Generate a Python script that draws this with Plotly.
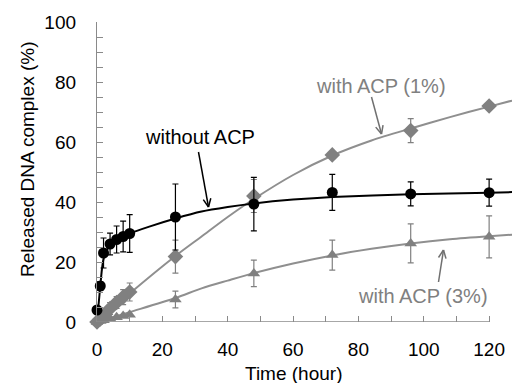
import math
import plotly.graph_objects as go

# ---- data ----
time_pts = [0, 1, 2, 4, 6, 8, 10, 24, 48, 72, 96, 120]
without_acp = [4, 12, 23, 26, 27.5, 28.5, 29.5, 35, 39.3, 43.2, 42.7, 43.1]
without_acp_err = [1, 1.5, 5, 3.6, 4.5, 5.1, 6.3, 11, 8.9, 6, 4, 4.5]
acp1 = [0, 1, 2, 4.5, 6.5, 8.3, 10, 21.8, 42, 55.7, 63.8, 72]
acp1_err = [0.5, 1, 1.5, 2, 2, 2.5, 3, 5.5, 5.5, 0, 4, 0]
acp3 = [0, 0.3, 0.6, 1.2, 1.6, 2.0, 2.4, 7.5, 16.2, 22.3, 26.2, 28.4]
acp3_err = [0, 0, 0, 0, 0, 0, 0, 2.8, 4.4, 5, 6.5, 7]

# fitted curves
fit_t_black = [0, 0.5, 1, 1.5, 2, 3, 4, 6, 8, 10, 16, 24, 32, 40, 48, 60, 72, 96, 120, 127]
fit_black = [0.5, 6, 12, 17.5, 21, 24, 25.5, 27.3, 28.5, 29.5, 31.8, 34.5, 36.8, 38.3, 39.5, 40.8, 41.7, 42.6, 43.1, 43.3]
fit_t = [0, 10, 24, 32, 40, 48, 60, 72, 84, 96, 108, 120, 127]
fit_acp1 = [0, 9.5, 22, 28.5, 35, 41, 49, 55.5, 60.5, 64.5, 68.3, 71.8, 73.8]
fit_acp3 = [0, 3.3, 8, 11.2, 13.8, 16.3, 19.5, 22.2, 24.4, 26.2, 27.6, 28.6, 29.1]

x_ticks = [0, 20, 40, 60, 80, 100, 120]
y_ticks = [0, 20, 40, 60, 80, 100]

GRAY = "#808080"
LGRAY = "#8f8f8f"
AXC = "#8a8a8a"
FONT = "Liberation Sans, Arial, sans-serif"

# layout geometry
W, H = 512, 383
ML, MR, MT, MB = 97, 0, 22, 61
XR = [0, 127]
YR = [0, 100]
PW = W - ML - MR
PH = H - MT - MB

def px2paper(px, py):
    return (px - ML) / PW, (H - MB - py) / PH

fig = go.Figure()

fig.add_trace(go.Scatter(x=fit_t, y=fit_acp3, mode="lines", line=dict(color=LGRAY, width=2, shape="spline", smoothing=0.8), hoverinfo="skip", showlegend=False))
fig.add_trace(go.Scatter(x=fit_t, y=fit_acp1, mode="lines", line=dict(color=LGRAY, width=2, shape="spline", smoothing=0.8), hoverinfo="skip", showlegend=False))
fig.add_trace(go.Scatter(x=fit_t_black, y=fit_black, mode="lines", line=dict(color="black", width=2, shape="spline", smoothing=0.6), hoverinfo="skip", showlegend=False))

fig.add_trace(go.Scatter(x=time_pts, y=acp3, mode="markers", cliponaxis=False,
                         marker=dict(symbol="triangle-up", size=11, color=GRAY),
                         error_y=dict(type="data", array=acp3_err, color=GRAY, thickness=1.2, width=3),
                         showlegend=False))
fig.add_trace(go.Scatter(x=time_pts, y=acp1, mode="markers", cliponaxis=False,
                         marker=dict(symbol="diamond", size=12, color=GRAY),
                         error_y=dict(type="data", array=acp1_err, color=GRAY, thickness=1.2, width=3),
                         showlegend=False))
fig.add_trace(go.Scatter(x=time_pts, y=without_acp, mode="markers", cliponaxis=False,
                         marker=dict(symbol="circle", size=11, color="black"),
                         error_y=dict(type="data", array=without_acp_err, color="black", thickness=1.2, width=3),
                         showlegend=False))

shapes = [dict(type="line", xref="x", yref="y", x0=0, y0=0, x1=120, y1=0,
               line=dict(color=AXC, width=1.3), layer="above")]

def arrow(tail, tip, color):
    (x0, y0), (x1, y1) = tail, tip
    ang = math.atan2(y1 - y0, x1 - x0)
    L = 9
    wings = []
    for d in (math.radians(25), -math.radians(25)):
        wings.append((x1 - L * math.cos(ang + d), y1 - L * math.sin(ang + d)))
    segs = [((x0, y0), (x1, y1)), (wings[0], (x1, y1)), (wings[1], (x1, y1))]
    for a, b in segs:
        ax, ay = px2paper(*a)
        bx, by = px2paper(*b)
        shapes.append(dict(type="line", xref="paper", yref="paper", x0=ax, y0=ay, x1=bx, y1=by,
                           line=dict(color=color, width=1.5)))

arrow((198.5, 152), (208.5, 207), "black")
arrow((371.5, 97), (381.5, 134), "#707070")
arrow((438.5, 282), (443.5, 250), "#707070")

annotations = []
def label(text, px, py, color, size=20, angle=0):
    x, y = px2paper(px, py)
    annotations.append(dict(x=x, y=y, xref="paper", yref="paper", text=text, showarrow=False,
                            textangle=angle, font=dict(family=FONT, size=size, color=color),
                            xanchor="center", yanchor="middle"))

label("without ACP", 200, 137, "black")
label("with ACP (1%)", 381, 86, GRAY)
label("with ACP (3%)", 422.5, 296, GRAY)
label("Time (hour)", 293, 373, "black", size=19)
label("Released DNA complex (%)", 27, 160, "black", size=19, angle=-90)

fig.update_layout(
    width=W, height=H,
    margin=dict(l=ML, r=MR, t=MT, b=MB, pad=0, autoexpand=False),
    paper_bgcolor="white", plot_bgcolor="white",
    font=dict(family=FONT, size=19, color="black"),
    shapes=shapes, annotations=annotations,
    showlegend=False,
)
fig.update_xaxes(range=XR, automargin=False, showline=False, zeroline=False, showgrid=False,
                 tickmode="array", tickvals=x_ticks, ticktext=[str(v) for v in x_ticks],
                 ticks="inside", ticklen=6, tickcolor=AXC, tickwidth=1.2,
                 minor=dict(dtick=10, tick0=0, ticks="inside", ticklen=6, tickcolor=AXC, tickwidth=1.2, showgrid=False),
                 ticklabelstandoff=14, tickfont=dict(size=19))
fig.update_yaxes(range=YR, automargin=False, showline=True, linecolor=AXC, linewidth=1.3, zeroline=False, showgrid=False,
                 tickmode="array", tickvals=y_ticks, ticktext=[str(v) for v in y_ticks],
                 ticks="inside", ticklen=6, tickcolor=AXC, tickwidth=1.2,
                 minor=dict(dtick=5, tick0=0, ticks="inside", ticklen=6, tickcolor=AXC, tickwidth=1.2, showgrid=False),
                 ticklabelstandoff=16, tickfont=dict(size=19))

fig.write_html("out.html", config={"displayModeBar": False},
               post_script="document.body.style.margin='0';document.body.style.overflow='hidden';")
